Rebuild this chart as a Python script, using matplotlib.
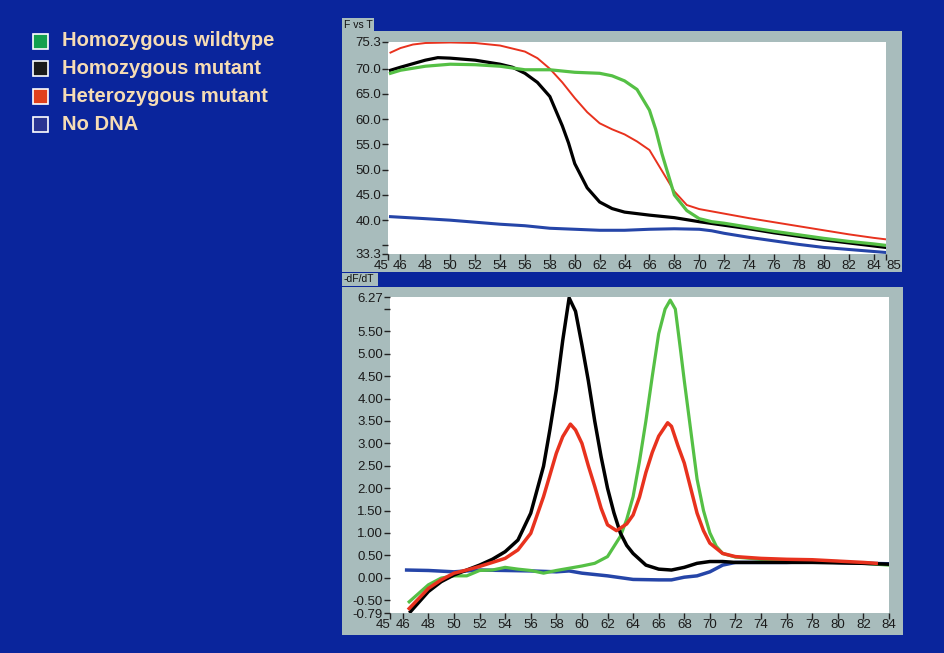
import matplotlib.pyplot as plt
from matplotlib.patches import Rectangle

# ---- top panel: fluorescence vs temperature ----
t_red = [45.2, 46, 47, 48, 50, 52, 54, 56, 57, 58, 59, 60, 61, 62, 63, 64, 65, 66, 67, 68, 69, 70, 72, 74, 76, 78, 80, 82, 84, 85]
f_red = [73.2, 74.1, 74.8, 75.1, 75.2, 75.1, 74.6, 73.4, 72.1, 70.0, 67.3, 64.2, 61.4, 59.2, 58.0, 57.0, 55.6, 53.9, 49.8, 45.7, 43.0, 42.2, 41.3, 40.4, 39.6, 38.8, 38.0, 37.2, 36.5, 36.2]

t_blk = [45.2, 46, 48, 49, 50, 52, 54, 55, 56, 57, 58, 59, 59.5, 60, 61, 62, 63, 64, 66, 68, 70, 72, 74, 76, 78, 80, 82, 84, 85]
f_blk = [69.7, 70.3, 71.7, 72.2, 72.1, 71.7, 70.9, 70.3, 69.1, 67.3, 64.5, 58.7, 55.3, 51.2, 46.4, 43.6, 42.3, 41.6, 41.0, 40.5, 39.7, 39.0, 38.3, 37.5, 36.8, 36.1, 35.5, 34.9, 34.6]

t_grn = [45.2, 46, 48, 50, 52, 54, 56, 58, 60, 62, 63, 64, 65, 66, 66.5, 67, 67.5, 68, 69, 70, 71, 72, 74, 76, 78, 80, 82, 84, 85]
f_grn = [69.1, 69.7, 70.5, 70.9, 70.8, 70.5, 69.8, 69.8, 69.3, 69.1, 68.6, 67.6, 65.9, 61.8, 58.0, 53.2, 49.1, 45.0, 41.9, 40.3, 39.7, 39.4, 38.6, 37.8, 37.1, 36.4, 35.8, 35.3, 35.0]

t_blu = [45.2, 48, 50, 52, 54, 56, 58, 60, 62, 64, 66, 68, 70, 71, 72, 74, 76, 78, 80, 82, 84, 85]
f_blu = [40.7, 40.3, 40.0, 39.6, 39.2, 38.9, 38.4, 38.2, 38.0, 38.0, 38.2, 38.3, 38.2, 37.9, 37.4, 36.6, 35.9, 35.2, 34.6, 34.2, 33.8, 33.6]

# ---- bottom panel: -dF/dT ----
d_blk_t = [46.6, 48, 49, 50, 51, 52, 53, 54, 55, 56, 57, 57.5, 58, 58.5, 59, 59.5, 60, 60.5, 61, 61.5, 62, 62.5, 63, 63.5, 64, 65, 66, 67, 68, 69, 70, 71, 72, 74, 76, 78, 80, 82, 84]
d_blk = [-0.76, -0.31, -0.09, 0.06, 0.17, 0.28, 0.41, 0.58, 0.84, 1.44, 2.49, 3.31, 4.2, 5.3, 6.25, 5.95, 5.2, 4.4, 3.5, 2.7, 2.0, 1.45, 1.0, 0.72, 0.54, 0.28, 0.19, 0.17, 0.23, 0.32, 0.36, 0.36, 0.34, 0.34, 0.34, 0.34, 0.33, 0.32, 0.30]

d_red_t = [46.5, 48, 49, 50, 51, 52, 53, 54, 55, 56, 57, 58, 58.5, 59.1, 59.5, 60, 60.5, 61, 61.5, 62, 62.7, 63.5, 64, 64.5, 65, 65.5, 66, 66.7, 67, 67.5, 68, 68.5, 69, 69.5, 70, 71, 72, 74, 76, 78, 80, 82, 83]
d_red = [-0.69, -0.24, -0.05, 0.10, 0.17, 0.25, 0.34, 0.43, 0.62, 0.99, 1.81, 2.78, 3.15, 3.43, 3.3, 3.0, 2.5, 2.04, 1.55, 1.18, 1.05, 1.2, 1.4, 1.8, 2.35, 2.8, 3.16, 3.46, 3.38, 2.95, 2.56, 2.0, 1.44, 1.05, 0.77, 0.54, 0.47, 0.43, 0.41, 0.40, 0.37, 0.34, 0.32]

d_grn_t = [46.5, 48, 49, 50, 51, 52, 53, 54, 55, 56, 57, 58, 59, 60, 61, 62, 63, 63.5, 64, 64.5, 65, 65.5, 66, 66.5, 66.9, 67.3, 67.7, 68, 68.5, 69, 69.5, 70, 70.5, 71, 72, 74, 76, 78, 80, 82, 84]
d_grn = [-0.54, -0.16, -0.01, 0.04, 0.04, 0.16, 0.17, 0.23, 0.19, 0.16, 0.10, 0.16, 0.21, 0.26, 0.32, 0.47, 0.92, 1.3, 1.81, 2.6, 3.5, 4.5, 5.45, 6.0, 6.2, 6.0, 5.1, 4.4, 3.3, 2.2, 1.5, 1.0, 0.7, 0.54, 0.46, 0.41, 0.40, 0.36, 0.36, 0.32, 0.28]

d_blu_t = [46.3, 48, 50, 52, 54, 56, 58, 59, 60, 62, 64, 66, 67, 68, 69, 70, 71, 72, 74, 76, 78, 80, 82, 84]
d_blu = [0.17, 0.16, 0.13, 0.17, 0.16, 0.15, 0.13, 0.15, 0.10, 0.04, -0.04, -0.05, -0.05, 0.01, 0.04, 0.13, 0.28, 0.34, 0.34, 0.34, 0.36, 0.34, 0.32, 0.31]

legend_labels = ['Homozygous wildtype', 'Homozygous mutant', 'Heterozygous mutant', 'No DNA']
legend_colors = ['#12a04e', '#1a1a1a', '#e0401c', '#2a3592']

top_xticks = [45, 46] + list(range(48, 85, 2)) + [85]
top_yticks = [33.3, 35, 40, 45, 50, 55, 60, 65, 70, 75.3]
top_ylabels = ['33.3', '', '40.0', '45.0', '50.0', '55.0', '60.0', '65.0', '70.0', '75.3']
bot_xticks = [45, 46] + list(range(48, 85, 2))
bot_yticks = [-0.79, -0.5, 0, 0.5, 1, 1.5, 2, 2.5, 3, 3.5, 4, 4.5, 5, 5.5, 6.0, 6.27]
bot_ylabels = ['-0.79', '-0.50', '0.00', '0.50', '1.00', '1.50', '2.00', '2.50', '3.00',
               '3.50', '4.00', '4.50', '5.00', '5.50', '', '6.27']

BG = '#0a259c'
FRAME = '#a8bcbc'
GREEN = '#55c045'
RED = '#e8321e'
BLUE = '#2545a8'
W, H = 944, 653

plt.rcParams['font.family'] = ['Liberation Sans', 'DejaVu Sans']

fig = plt.figure(figsize=(W / 100, H / 100), dpi=100, facecolor=BG)


def px_rect(x0, y0, x1, y1):
    return [x0 / W, 1 - y1 / H, (x1 - x0) / W, (y1 - y0) / H]


def frame(x0, y0, x1, y1):
    l, b, w, h = px_rect(x0, y0, x1, y1)
    fig.patches.append(Rectangle((l, b), w, h, transform=fig.transFigure,
                                 facecolor=FRAME, edgecolor='none', zorder=-5))


# gray panel frames and title tabs
frame(342, 31, 902, 272)
frame(342, 18, 374, 31)
fig.text(344 / W, 1 - 24.5 / H, 'F vs T', fontsize=7.5, va='center', ha='left', color='#111111')
frame(342, 287, 903, 635)
frame(342, 273, 378, 286)
fig.text(344 / W, 1 - 279.5 / H, '-dF/dT', fontsize=7.5, va='center', ha='left', color='#111111')


def style(ax):
    ax.set_facecolor('white')
    for s in ax.spines.values():
        s.set_visible(False)
    ax.tick_params(axis='both', direction='out', length=4, width=1, color='#222222',
                   labelsize=9.5, labelcolor='#1a1a1a', pad=1)
    ax.tick_params(axis='x', pad=0)


ax1 = fig.add_axes(px_rect(388, 42, 886, 254))
style(ax1)
ax1.plot(t_blu, f_blu, color=BLUE, lw=2.2)
ax1.plot(t_red, f_red, color=RED, lw=1.4)
ax1.plot(t_blk, f_blk, color='black', lw=2.3)
ax1.plot(t_grn, f_grn, color=GREEN, lw=2.3)
ax1.set_xlim(45, 85)
ax1.set_ylim(33.3, 75.3)
ax1.set_xticks(top_xticks)
ax1.set_xticklabels([str(v) for v in top_xticks])
ax1.set_yticks(top_yticks)
ax1.set_yticklabels(top_ylabels)
# crowded end labels: push outward like the instrument software
lbls = ax1.get_xticklabels()
lbls[0].set_horizontalalignment('right')
lbls[-1].set_horizontalalignment('left')

ax2 = fig.add_axes(px_rect(390, 297, 889, 613))
style(ax2)
ax2.plot(d_blu_t, d_blu, color=BLUE, lw=2.5)
ax2.plot(d_grn_t, d_grn, color=GREEN, lw=2.3)
ax2.plot(d_blk_t, d_blk, color='black', lw=2.5)
ax2.plot(d_red_t, d_red, color=RED, lw=2.5)
ax2.set_xlim(45, 84)
ax2.set_ylim(-0.79, 6.27)
ax2.set_xticks(bot_xticks)
ax2.set_xticklabels([str(v) for v in bot_xticks])
ax2.set_yticks(bot_yticks)
ax2.set_yticklabels(bot_ylabels)
ax2.get_xticklabels()[0].set_horizontalalignment('right')

# legend at top left
for i, (lab, col) in enumerate(zip(legend_labels, legend_colors)):
    yc = 41 + i * 27.7
    l, b, w, h = px_rect(33, yc - 7.5, 48, yc + 7.5)
    fig.patches.append(Rectangle((l, b), w, h, transform=fig.transFigure,
                                 facecolor=col, edgecolor='white', lw=1.2, zorder=2))
    fig.text(62 / W, 1 - yc / H, lab, fontsize=14.5, fontweight='bold',
             color='#f6dcb4', va='center', ha='left')

fig.savefig('out.png', dpi=100, facecolor=BG)
